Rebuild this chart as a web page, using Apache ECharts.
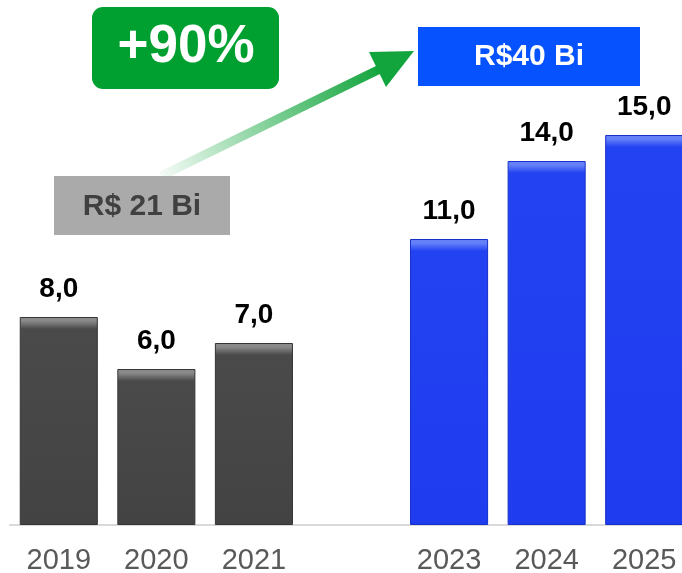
<!DOCTYPE html>
<html>
<head>
<meta charset="utf-8">
<script src="https://cdn.jsdelivr.net/npm/echarts@6/dist/echarts.min.js"></script>
<style>
html, body { margin: 0; padding: 0; background: #fff; }
#main { width: 682px; height: 573px; }
</style>
</head>
<body>
<div id="main"></div>
<script>
// anos (2022 fica vazio, só o espaço entre os dois grupos)
var years = ['2019', '2020', '2021', '', '2023', '2024', '2025'];
var values = [8.0, 6.0, 7.0, null, 11.0, 14.0, 15.0];
var firstPeriodEnd = 2; // indices 0..2 = cinza, resto = azul

var pxPerUnit = 26; // altura do grid / max do eixo

// gradiente do topo "chanfrado" das barras
function bevelColor(v, top, mid, bottom) {
    var h = v * pxPerUnit;
    return new echarts.graphic.LinearGradient(0, 0, 0, 1, [
        { offset: 0, color: top },
        { offset: 4 / h, color: top },
        { offset: 12 / h, color: mid },
        { offset: 1, color: bottom }
    ]);
}

var barData = [];
for (var i = 0; i < values.length; i++) {
    var v = values[i];
    if (v === null) { barData.push('-'); continue; }
    var gray = i <= firstPeriodEnd;
    barData.push({
        value: v,
        itemStyle: {
            color: gray ? bevelColor(v, '#8a8a8a', '#4a4a4a', '#434343')
                        : bevelColor(v, '#6681f8', '#2343f2', '#1f3cee'),
            borderColor: gray ? '#353535' : '#1631c9',
            borderWidth: 1
        }
    });
}

var chart = echarts.init(document.getElementById('main'));

var arrowGrad = new echarts.graphic.LinearGradient(161, 176, 380, 69, [
    { offset: 0, color: 'rgba(0,160,48,0.04)' },
    { offset: 1, color: '#13a53d' }
], true);

var option = {
    animation: false,
    grid: { left: 10, width: 683, top: 5, height: 520, outerBoundsMode: 'none', containLabel: false },
    xAxis: {
        type: 'category',
        data: years,
        axisTick: { show: false },
        axisLine: { lineStyle: { color: '#d9d9d9', width: 2 } },
        axisLabel: {
            color: '#595959',
            fontSize: 29,
            fontFamily: 'Liberation Sans',
            margin: 21
        }
    },
    yAxis: {
        type: 'value',
        min: 0,
        max: 20,
        show: false,
        splitLine: { show: false }
    },
    series: [{
        type: 'bar',
        data: barData,
        barWidth: '80%',
        label: {
            show: true,
            position: 'top',
            distance: 14,
            color: '#000',
            fontSize: 28,
            fontWeight: 'bold',
            fontFamily: 'Liberation Sans',
            formatter: function (p) { return p.value.toFixed(1).replace('.', ','); }
        }
    }],
    graphic: [
        {
            type: 'line',
            shape: { x1: 161, y1: 176, x2: 382, y2: 68 },
            style: { stroke: arrowGrad, lineWidth: 9 },
            z: 10
        },
        {
            type: 'polygon',
            shape: { points: [[414, 51], [369, 52], [386, 87]] },
            style: { fill: '#13a53d' },
            z: 10
        },
        {
            type: 'rect',
            shape: { x: 54, y: 176, width: 176, height: 59 },
            style: { fill: '#aaaaaa' },
            z: 11
        },
        {
            type: 'text',
            x: 142, y: 207,
            style: {
                text: 'R$ 21 Bi', fill: '#404040',
                font: 'bold 30px "Liberation Sans"',
                align: 'center', verticalAlign: 'middle'
            },
            z: 12
        },
        {
            type: 'rect',
            shape: { x: 92, y: 7, width: 187, height: 82, r: 11 },
            style: { fill: '#00a030' },
            z: 11
        },
        {
            type: 'text',
            x: 186, y: 47,
            style: {
                text: '+90%', fill: '#fff',
                font: 'bold 53px "Liberation Sans"',
                align: 'center', verticalAlign: 'middle'
            },
            z: 12
        },
        {
            type: 'rect',
            shape: { x: 418, y: 27, width: 222, height: 59 },
            style: { fill: '#0752ff' },
            z: 11
        },
        {
            type: 'text',
            x: 529, y: 57,
            style: {
                text: 'R$40 Bi', fill: '#fff',
                font: 'bold 30px "Liberation Sans"',
                align: 'center', verticalAlign: 'middle'
            },
            z: 12
        }
    ]
};
chart.setOption(option);
</script>
</body>
</html>
